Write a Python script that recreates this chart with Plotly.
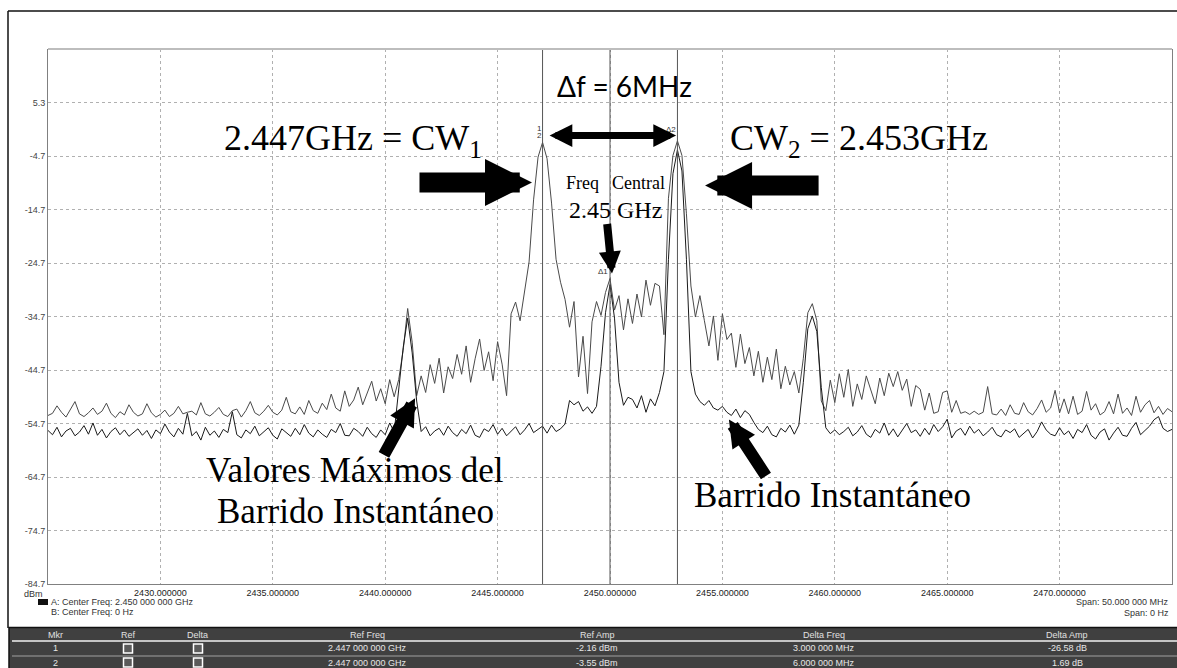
import plotly.graph_objects as go

# ---------------- data ----------------
FREQ_START = 2425.0      # MHz
FREQ_STEP = 0.2          # MHz per sample

max_hold = [
    -53.2, -52.8, -51.4, -52.6, -53.5, -52.1, -50.6, -52.9, -53.4, -52.7,   # 2425
    -51.8, -53.0, -52.4, -50.9, -52.8, -53.6, -52.5, -53.1, -51.2, -52.6,   # 2427
    -53.3, -52.9, -51.0, -52.7, -53.5, -53.0, -52.2, -53.4, -52.8, -51.5,   # 2429
    -52.9, -52.6, -52.4, -53.1, -50.8, -52.9, -53.3, -52.6, -51.7, -53.0,   # 2431
    -53.4, -52.3, -52.0, -53.5, -52.3, -50.6, -52.7, -53.2, -52.4, -51.3,   # 2433
    -52.6, -53.1, -52.2, -49.8, -52.5, -52.9, -51.6, -53.0, -50.4, -52.3,   # 2435
    -52.8, -50.9, -52.1, -49.2, -51.8, -52.4, -48.6, -51.5, -50.3, -47.9,   # 2437
    -51.2, -49.0, -46.8, -50.5, -48.2, -51.0, -46.5, -49.7, -46.5, -41.0,   # 2439
    -33.2, -39.5, -49.5, -45.8, -48.9, -43.7, -47.2, -42.5, -49.0, -44.1,   # 2441
    -46.3, -41.8, -45.5, -40.2, -47.0, -42.6, -38.9, -44.8, -41.3, -46.7,   # 2443
    -39.4, -43.6, -49.5, -34.2, -32.0, -35.5, -29.8, -24.5, -12.9, -4.9,    # 2445
    -2.16, -5.2, -13.5, -24.0, -28.3, -31.5, -36.7, -31.9, -46.0, -38.4,    # 2447
    -49.1, -35.7, -31.9, -34.5, -30.2, -27.6, -33.5, -30.8, -37.2, -31.4,   # 2449
    -36.0, -30.5, -34.8, -27.9, -32.6, -28.5, -29.0, -38.1, -12.6, -4.6,    # 2451
    -1.86, -4.6, -15.5, -29.0, -34.8, -30.8, -35.5, -40.2, -34.6, -42.9,    # 2453
    -34.2, -39.0, -37.8, -44.2, -38.0, -43.5, -40.5, -45.8, -41.2, -47.0,   # 2455
    -42.3, -46.5, -40.8, -48.2, -44.0, -47.5, -45.0, -49.0, -42.5, -34.0,   # 2457
    -32.3, -35.5, -50.5, -52.3, -46.6, -50.8, -45.4, -49.8, -44.6, -51.5,   # 2459
    -47.3, -50.2, -45.8, -48.6, -51.0, -46.2, -49.5, -45.3, -47.8, -45.0,   # 2461
    -48.5, -46.4, -51.5, -47.6, -48.3, -52.2, -49.0, -52.8, -52.5, -48.9,   # 2463
    -48.6, -52.6, -50.4, -52.8, -52.5, -53.0, -52.4, -53.0, -52.6, -47.8,   # 2465
    -52.9, -53.1, -52.0, -53.2, -51.2, -52.8, -53.0, -50.8, -52.5, -53.1,   # 2467
    -51.9, -50.3, -52.6, -51.8, -48.5, -52.7, -50.1, -52.9, -49.6, -53.0,   # 2469
    -52.4, -48.7, -52.2, -51.0, -53.1, -52.5, -50.6, -52.9, -49.2, -52.8,   # 2471
    -51.8, -53.2, -49.6, -52.6, -51.2, -50.4, -52.7, -51.5, -53.0, -51.9,   # 2473
    -52.5,                                                                  # 2475
]

instantaneous = [
    -56.0, -56.8, -55.4, -57.2, -56.1, -55.6, -57.0, -56.3, -55.1, -56.7,   # 2425
    -54.6, -56.9, -55.8, -57.4, -56.2, -55.5, -56.8, -55.9, -57.1, -56.4,   # 2427
    -55.7, -56.9, -56.0, -57.5, -55.9, -56.6, -54.8, -56.3, -57.2, -55.6,   # 2429
    -56.7, -52.8, -57.0, -56.2, -57.8, -55.4, -56.9, -56.1, -57.3, -55.8,   # 2431
    -56.4, -52.5, -56.8, -57.4, -55.9, -56.6, -55.2, -57.0, -56.3, -55.5,   # 2433
    -56.9, -57.6, -55.7, -56.4, -57.1, -55.6, -56.8, -54.9, -56.5, -57.2,   # 2435
    -55.9, -56.7, -57.3, -55.8, -56.4, -54.7, -56.9, -57.0, -55.6, -56.2,   # 2437
    -57.1, -55.4, -56.6, -57.3, -55.9, -56.8, -54.6, -56.3, -49.0, -40.5,   # 2439
    -35.0, -41.5, -50.5, -56.2, -55.3, -57.0, -56.1, -55.6, -56.9, -55.2,   # 2441
    -56.4, -57.1, -55.8, -56.6, -55.0, -56.9, -57.3, -55.7, -56.2, -54.9,   # 2443
    -56.7, -55.6, -57.0, -56.1, -55.3, -56.8, -55.9, -54.7, -56.4, -55.8,   # 2445
    -55.2, -56.5, -55.0, -56.2, -55.7, -54.8, -50.4, -51.2, -50.6, -52.4,   # 2447
    -51.6, -52.8, -51.5, -44.0, -34.0, -28.74, -35.0, -47.0, -51.3, -49.8,  # 2449
    -50.2, -51.8, -49.5, -52.6, -50.1, -51.4, -48.9, -45.0, -24.0, -8.0,    # 2451
    -3.55, -7.5, -24.0, -45.0, -49.2, -50.6, -51.3, -50.4, -51.8, -52.2,    # 2453
    -51.5, -52.6, -53.2, -52.0, -53.6, -52.3, -53.0, -54.5, -55.8, -56.4,   # 2455
    -55.2, -56.8, -57.2, -55.6, -56.3, -55.0, -56.7, -55.0, -47.0, -37.0,   # 2457
    -34.6, -37.5, -48.0, -55.5, -56.6, -55.9, -56.8, -56.2, -55.4, -57.0,   # 2459
    -56.3, -55.1, -56.7, -57.3, -55.8, -56.5, -54.6, -56.9, -55.7, -57.2,   # 2461
    -56.0, -54.7, -56.4, -55.9, -57.1, -55.6, -56.8, -54.9, -56.2, -55.3,   # 2463
    -53.9, -57.4, -56.1, -55.6, -56.9, -55.2, -56.5, -55.8, -57.0, -56.3,   # 2465
    -55.4, -56.8, -57.2, -55.9, -56.4, -55.7, -57.3, -56.6, -55.8, -57.4,   # 2467
    -56.2, -54.4, -55.9, -56.7, -57.0, -55.5, -56.8, -56.1, -57.5, -55.8,   # 2469
    -56.4, -54.9, -56.9, -57.6, -56.3, -55.7, -57.8, -56.5, -55.4, -56.9,   # 2471
    -57.1, -55.6, -54.5, -56.8, -56.0, -55.2, -54.0, -53.4, -55.6, -56.2,   # 2473
    -55.8,                                                                  # 2475
]

freqs = [FREQ_START + FREQ_STEP * i for i in range(len(max_hold))]

x_ticks = [2430, 2435, 2440, 2445, 2450, 2455, 2460, 2465, 2470]
x_tick_labels = ["%d.000000" % v for v in x_ticks]
y_ticks = [-84.7, -74.7, -64.7, -54.7, -44.7, -34.7, -24.7, -14.7, -4.7, 5.3]
y_tick_labels = ["%.1f" % v for v in y_ticks]
X_RANGE = [2425, 2475]
Y_RANGE = [-84.7, 15.3]

marker_freqs = [2447, 2450, 2453]

table_headers = ["Mkr", "Ref", "Delta", "Ref Freq", "Ref Amp", "Delta Freq", "Delta Amp"]
mkr_ids = ["1", "2"]
ref_freqs = ["2.447 000 000 GHz", "2.447 000 000 GHz"]
ref_amps = ["-2.16 dBm", "-3.55 dBm"]
delta_freqs = ["3.000 000 MHz", "6.000 000 MHz"]
delta_amps = ["-26.58 dB", "1.69 dB"]

# ---------------- layout helpers (pixel -> paper) ----------------
FW, FH = 1177, 668
L, T, W, H = 48, 49, 1124, 535


def px(x):
    return (x - L) / W


def py(y):
    return (T + H - y) / H


SERIF = "Liberation Serif, Times New Roman, serif"
SANS = "Liberation Sans, Arial, sans-serif"

fig = go.Figure()
fig.add_trace(go.Scatter(x=freqs, y=max_hold, mode="lines",
                         line=dict(color="#4a4a4a", width=1), name="Max hold"))
fig.add_trace(go.Scatter(x=freqs, y=instantaneous, mode="lines",
                         line=dict(color="#1a1a1a", width=1), name="Instantaneous"))

shapes = []
# marker lines
for mf in marker_freqs:
    shapes.append(dict(type="line", xref="x", yref="paper", x0=mf, x1=mf, y0=0, y1=1,
                       line=dict(color="#555555", width=1)))
# top frame line of plot (light gray)
shapes.append(dict(type="line", xref="paper", yref="paper", x0=0, x1=1, y0=1, y1=1,
                   line=dict(color="#bdbdbd", width=2)))
# outer frame
shapes.append(dict(type="line", xref="paper", yref="paper", x0=px(8), x1=px(1177),
                   y0=py(11), y1=py(11), line=dict(color="#111111", width=1.5)))
shapes.append(dict(type="line", xref="paper", yref="paper", x0=px(8), x1=px(8),
                   y0=py(11), y1=py(628), line=dict(color="#111111", width=1.5)))
# legend square
shapes.append(dict(type="rect", xref="paper", yref="paper", x0=px(38), x1=px(48),
                   y0=py(605), y1=py(599), fillcolor="#111111", line=dict(width=0)))
# table
shapes.append(dict(type="rect", xref="paper", yref="paper", x0=px(9), x1=px(1178),
                   y0=py(669), y1=py(627.5), fillcolor="#404040",
                   line=dict(color="#111111", width=1.5)))
shapes.append(dict(type="line", xref="paper", yref="paper", x0=px(12), x1=px(1177),
                   y0=py(641), y1=py(641), line=dict(color="#f0f0f0", width=1.5)))
shapes.append(dict(type="line", xref="paper", yref="paper", x0=px(12), x1=px(1177),
                   y0=py(656), y1=py(656), line=dict(color="#a0a0a0", width=1)))
row_y = [648.5, 662.5]
for ry in row_y:
    for cx in (128, 198):
        shapes.append(dict(type="rect", xref="paper", yref="paper",
                           x0=px(cx - 4.5), x1=px(cx + 4.5), y0=py(ry + 4.5), y1=py(ry - 4.5),
                           fillcolor="#5a5a5a", line=dict(color="#ffffff", width=1.5)))

annotations = []


def text(t, x, y, size, family=SERIF, color="#000000", xanchor="center"):
    annotations.append(dict(text=t, xref="paper", yref="paper", x=px(x), y=py(y),
                            xanchor=xanchor, yanchor="middle", showarrow=False,
                            font=dict(size=size, family=family, color=color)))


def arrow(x_tip, y_tip, ax, ay, width, size, both=False):
    a = dict(text="", x=x_tip, y=y_tip, xref="x", yref="y", ax=ax, ay=ay,
             showarrow=True, arrowhead=2, arrowwidth=width, arrowsize=size,
             arrowcolor="#000000")
    if both:
        a.update(arrowside="end+start", startarrowhead=2, startarrowsize=size)
    annotations.append(a)


# big labels
text("\u0394f = 6MHz", 624, 86, 28, family="Lato, Open Sans, sans-serif")
text("2.447GHz = CW<sub>1</sub>", 353, 141, 36)
text("CW<sub>2</sub> = 2.453GHz", 859, 141, 36)
text("Freq", 582, 183, 18)
text("Central", 638, 183, 18)
text("2.45 GHz", 615, 210, 24)
text("Valores Máximos del", 355, 470, 35)
text("Barrido Instantáneo", 355, 512, 35)
text("Barrido Instantáneo", 832, 495, 35)

# marker labels
text("1", 539, 128, 8, family=SANS, color="#333333")
text("2", 539, 136, 8, family=SANS, color="#333333")
text("\u03942", 671, 129, 8, family=SANS, color="#333333")
text("\u03941", 603, 271, 8, family=SANS, color="#333333")

# arrows
arrow(2446.53, -9.65, -114, 0, 20, 0.47)
arrow(2454.23, -10.2, 115, 0, 20, 0.47)
arrow(2452.94, -0.87, -128, 0, 7, 0.65, both=True)
arrow(2450.09, -26.66, -5, -51, 8, 0.55)
arrow(2441.33, -50.0, -32, 58, 12, 0.45)
arrow(2455.29, -53.95, 38, 58, 12, 0.45)

# axis footer texts
text("dBm", 45, 593.5, 9, family=SANS, color="#333333", xanchor="right")
text("A: Center Freq: 2.450 000 000 GHz", 49, 602, 9, family=SANS, color="#333333", xanchor="left")
text("B: Center Freq: 0 Hz", 49, 612, 9, family=SANS, color="#333333", xanchor="left")
text("Span: 50.000 000 MHz", 1171, 602, 9, family=SANS, color="#333333", xanchor="right")
text("Span: 0 Hz", 1171, 613, 9, family=SANS, color="#333333", xanchor="right")

# table text
col_x = [55, 128, 198, 367, 597, 824, 1067]
for hx, h in zip(col_x, table_headers):
    text(h, hx, 634.5, 9, family=SANS, color="#e0e0e0")
for ry, m, rf, ra, df, da in zip(row_y, mkr_ids, ref_freqs, ref_amps, delta_freqs, delta_amps):
    for cx, t in zip([col_x[0], col_x[3], col_x[4], col_x[5], col_x[6]], [m, rf, ra, df, da]):
        text(t, cx, ry, 9, family=SANS, color="#e6e6e6")

fig.update_layout(
    width=FW, height=FH, template="none",
    margin=dict(l=L, r=FW - L - W, t=T, b=FH - T - H, pad=0),
    paper_bgcolor="#ffffff", plot_bgcolor="#ffffff",
    showlegend=False, shapes=shapes, annotations=annotations,
    xaxis=dict(range=X_RANGE, tickvals=x_ticks, ticktext=x_tick_labels,
               showgrid=True, gridcolor="#b0b0b0", griddash="dot", gridwidth=1,
               zeroline=False, showline=True, linecolor="#808080", linewidth=1,
               ticks="", automargin=False,
               tickfont=dict(family=SANS, size=9, color="#222222")),
    yaxis=dict(range=Y_RANGE, tickvals=y_ticks, ticktext=y_tick_labels,
               showgrid=True, gridcolor="#b0b0b0", griddash="dot", gridwidth=1,
               zeroline=False, showline=True, linecolor="#808080", linewidth=1,
               mirror=True, ticks="", automargin=False,
               tickfont=dict(family=SANS, size=9, color="#444444")),
)

fig.write_html(
    "out.html",
    config={"displayModeBar": False},
    post_script="document.body.style.margin='0';document.body.style.padding='0';",
)
